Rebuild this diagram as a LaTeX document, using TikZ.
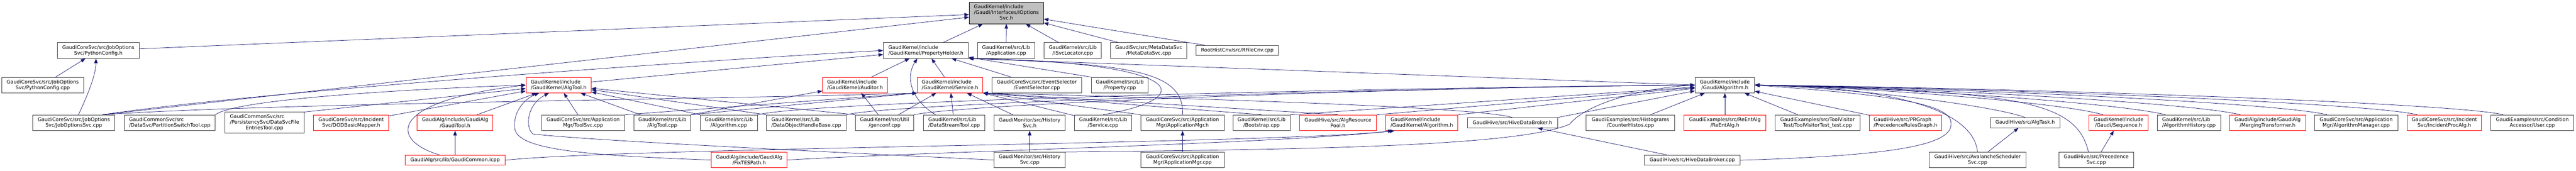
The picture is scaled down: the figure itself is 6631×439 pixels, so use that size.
\documentclass[tikz,border=0pt]{standalone}
\usepackage{fontspec}
\setmainfont{DejaVu Sans}
\usetikzlibrary{arrows.meta, positioning}
\definecolor{boxgray}{HTML}{404040}
\definecolor{rootgray}{HTML}{BFBFBF}
\definecolor{edgeblue}{HTML}{191970}
\tikzstyle{block} = [rectangle, draw=boxgray, fill=white, line width=1.2pt, inner sep=0pt, align=center, minimum height=40pt, font=\fontsize{12.75}{15}\selectfont]
\tikzstyle{redblock} = [block, draw=red]
\tikzstyle{rootblock} = [block, draw=black, fill=rootgray]
\tikzstyle{line} = [draw=edgeblue, line width=1pt, -{Triangle[length=12pt,width=9pt]}]

\begin{document}
\begin{tikzpicture}[x=1pt,y=-1pt]
	\useasboundingbox (0,0) rectangle (6631,439);

	% top
	\node[rootblock, minimum width=191pt, minimum height=55pt] (ioptions) at (2590.5,33.5) {\begin{tabular}{@{}l@{}}GaudiKernel/include\\/Gaudi/Interfaces/IOptions\\\multicolumn{1}{@{}c@{}}{Svc.h}\end{tabular}};

	% second row
	\node[block, minimum width=211pt] (pyconfh) at (253,130) {GaudiCoreSvc/src/JobOptions\\Svc/PythonConfig.h};
	\node[block, minimum width=219pt, align=left] (propholder) at (2383.5,130) {GaudiKernel/include\\/GaudiKernel/PropertyHolder.h};
	\node[block, minimum width=147pt] (appcpp) at (2590,130) {GaudiKernel/src/Lib\\/Application.cpp};
	\node[block, minimum width=147pt] (isvcloc) at (2761.5,130) {GaudiKernel/src/Lib\\/ISvcLocator.cpp};
	\node[block, minimum width=196pt] (metadata) at (2957,130) {GaudiSvc/src/MetaDataSvc\\/MetaDataSvc.cpp};
	\node[block, minimum width=212pt, minimum height=26pt] (rfilecnv) at (3185,130) {RootHistCnv/src/RFileCnv.cpp};

	% third row
	\node[block, minimum width=211pt] (pyconfcpp) at (110,219) {GaudiCoreSvc/src/JobOptions\\Svc/PythonConfig.cpp};
	\node[redblock, minimum width=168pt, align=left] (algtoolh) at (1438,219) {GaudiKernel/include\\/GaudiKernel/AlgTool.h};
	\node[redblock, minimum width=167pt, align=left] (auditorh) at (2201,219) {GaudiKernel/include\\/GaudiKernel/Auditor.h};
	\node[redblock, minimum width=169pt, align=left] (serviceh) at (2445.5,219) {GaudiKernel/include\\/GaudiKernel/Service.h};
	\node[block, minimum width=231pt] (evtsel) at (2669,219) {GaudiCoreSvc/src/EventSelector\\/EventSelector.cpp};
	\node[block, minimum width=147pt] (propcpp) at (2882.5,219) {GaudiKernel/src/Lib\\/Property.cpp};
	\node[block, minimum width=153pt] (galgh) at (4440,219) {GaudiKernel/include\\/Gaudi/Algorithm.h};

	% fourth row
	\node[block, minimum width=211pt] (jobsvc) at (190,316) {GaudiCoreSvc/src/JobOptions\\Svc/JobOptionsSvc.cpp};
	\node[block, minimum width=234pt, align=left] (partsw) at (437,316) {GaudiCommonSvc/src\\/DataSvc/PartitionSwitchTool.cpp};
	\node[block, minimum width=204pt, minimum height=54pt] (fileent) at (681,316) {\begin{tabular}{@{}l@{}}GaudiCommonSvc/src\\/PersistencySvc/DataSvcFile\\\multicolumn{1}{@{}c@{}}{EntriesTool.cpp}\end{tabular}};
	\node[redblock, minimum width=193pt] (dodmap) at (904,316) {GaudiCoreSvc/src/Incident\\Svc/DODBasicMapper.h};
	\node[redblock, minimum width=195pt] (gauditool) at (1171.5,316) {GaudiAlg/include/GaudiAlg\\/GaudiTool.h};
	\node[block, minimum width=214pt] (toolsvc) at (1501,316) {GaudiCoreSvc/src/Application\\Mgr/ToolSvc.cpp};
	\node[block, minimum width=146pt] (algtoolcpp) at (1705,316) {GaudiKernel/src/Lib\\/AlgTool.cpp};
	\node[block, minimum width=147pt] (algcpp) at (1876,316) {GaudiKernel/src/Lib\\/Algorithm.cpp};
	\node[block, minimum width=205pt, align=left] (dohbase) at (2075.5,316) {GaudiKernel/src/Lib\\/DataObjectHandleBase.cpp};
	\node[block, minimum width=150pt] (genconf) at (2277,316) {GaudiKernel/src/Util\\/genconf.cpp};
	\node[block, minimum width=158pt, align=left] (dstream) at (2456,316) {GaudiKernel/src/Lib\\/DataStreamTool.cpp};
	\node[block, minimum width=183pt] (histh) at (2650.5,316) {GaudiMonitor/src/History\\Svc.h};
	\node[block, minimum width=147pt] (svccpp) at (2839.5,316) {GaudiKernel/src/Lib\\/Service.cpp};
	\node[block, minimum width=214pt] (appmgrh) at (3044,316) {GaudiCoreSvc/src/Application\\Mgr/ApplicationMgr.h};
	\node[block, minimum width=147pt] (bootstrap) at (3247.5,316) {GaudiKernel/src/Lib\\/Bootstrap.cpp};
	\node[redblock, minimum width=198pt] (algrespool) at (3444,316) {GaudiHive/src/AlgResource\\Pool.h};
	\node[redblock, minimum width=186pt, align=left] (kalgh) at (3660,316) {GaudiKernel/include\\/GaudiKernel/Algorithm.h};
	\node[block, minimum width=232pt, minimum height=26pt] (hiveh) at (3893,316) {GaudiHive/src/HiveDataBroker.h};
	\node[block, minimum width=228pt] (counterh) at (4197,316) {GaudiExamples/src/Histograms\\/CounterHistos.cpp};
	\node[redblock, minimum width=210pt] (reent) at (4440,316) {GaudiExamples/src/ReEntAlg\\/ReEntAlg.h};
	\node[block, minimum width=219pt] (toolvis) at (4678.5,316) {GaudiExamples/src/ToolVisitor\\Test/ToolVisitorTest\_test.cpp};
	\node[redblock, minimum width=186pt, align=left] (prgraph) at (4905,316) {GaudiHive/src/PRGraph\\/PrecedenceRulesGraph.h};
	\node[block, minimum width=180pt, minimum height=26pt] (algtask) at (5213,316) {GaudiHive/src/AlgTask.h};
	\node[redblock, minimum width=153pt] (sequence) at (5453.5,316) {GaudiKernel/include\\/Gaudi/Sequence.h};
	\node[block, minimum width=163pt, align=left] (alghist) at (5634.5,316) {GaudiKernel/src/Lib\\/AlgorithmHistory.cpp};
	\node[redblock, minimum width=196pt] (merging) at (5837,316) {GaudiAlg/include/GaudiAlg\\/MergingTransformer.h};
	\node[block, minimum width=214pt] (algmgr) at (6065,316) {GaudiCoreSvc/src/Application\\Mgr/AlgorithmManager.cpp};
	\node[redblock, minimum width=192pt] (incproc) at (6292,316) {GaudiCoreSvc/src/Incident\\Svc/IncidentProcAlg.h};
	\node[block, minimum width=213pt] (usercpp) at (6518.5,316) {GaudiExamples/src/Condition\\Accessor/User.cpp};

	% bottom row
	\node[redblock, minimum width=257pt, minimum height=26pt] (gcommon) at (1171.5,412.5) {GaudiAlg/src/lib/GaudiCommon.icpp};
	\node[redblock, minimum width=195pt] (fixtes) at (1928.5,412) {GaudiAlg/include/GaudiAlg\\/FixTESPath.h};
	\node[block, minimum width=183pt] (histcpp) at (2650.5,412) {GaudiMonitor/src/History\\Svc.cpp};
	\node[block, minimum width=214pt] (appmgrcpp) at (3044,412) {GaudiCoreSvc/src/Application\\Mgr/ApplicationMgr.cpp};
	\node[block, minimum width=247pt, minimum height=26pt] (hivecpp) at (4356,412.5) {GaudiHive/src/HiveDataBroker.cpp};
	\node[block, minimum width=249pt] (avalanche) at (5090.5,412) {GaudiHive/src/AvalancheScheduler\\Svc.cpp};
	\node[block, minimum width=192pt] (precsvc) at (5396,412) {GaudiHive/src/Precedence\\Svc.cpp};

	% IOptionsSvc.h
	\path [line] (pyconfh) -- (ioptions);
	\path [line] ([xshift=74pt]jobsvc.north) -- (ioptions);
	\path [line] (propholder) -- (ioptions);
	\path [line] (appcpp) -- (ioptions);
	\path [line] (isvcloc) -- (ioptions);
	\path [line] (metadata) -- (ioptions);
	\path [line] (rfilecnv) -- (ioptions);

	\path [line] (pyconfcpp) -- (pyconfh);
	\path [line] ([xshift=12pt]jobsvc.north) .. controls (228,240) and (247,190) .. ([xshift=-6pt]pyconfh.south);

	% PropertyHolder.h
	\path [line] ([xshift=74pt]jobsvc.north) .. controls (700,230) and (1900,150) .. (propholder.west);
	\path [line] (algtoolh) -- (propholder);
	\path [line] (auditorh) -- (propholder);
	\path [line] (serviceh) -- (propholder);
	\path [line] ([xshift=-48pt]dstream.north) .. controls (2335,250) and (2335,190) .. ([xshift=-22pt]propholder.south);
	\path [line] (evtsel) -- (propholder);
	\path [line] (propcpp.north west) -- (propholder);
	\path [line] (svccpp.north) .. controls (3100,250) and (3040,160) .. (propholder.south east);
	\path [line] (appmgrh.north) .. controls (3050,180) and (2900,165) .. (propholder.south east);
	\path [line] (galgh.west) -- (propholder.south east);

	% Auditor.h
	\path [line] (algtoolcpp.north east) -- (auditorh);
	\path [line] (genconf) -- (auditorh);

	% Service.h
	\path [line] ([xshift=74pt]jobsvc.north) .. controls (700,265) and (1900,255) .. (serviceh.south west);
	\path [line] (toolsvc.north east) -- (serviceh.south west);
	\path [line] (algtoolcpp.north east) -- (serviceh.south west);
	\path [line] (genconf) -- (serviceh);
	\path [line] (dstream) -- (serviceh);
	\path [line] (histh) -- (serviceh);
	\path [line] (svccpp) -- (serviceh.south east);
	\path [line] (appmgrh.north west) -- (serviceh.south east);
	\path [line] (bootstrap.north) -- (serviceh.south east);
	\path [line] (algrespool.north) -- (serviceh.south east);
	\path [line] (hiveh.north) .. controls +(-100,-30) and +(400,10) .. (serviceh.south east);

	% AlgTool.h
	\path [line] (partsw.north east) .. controls +(50,-40) and +(-300,10) .. (algtoolh.west);
	\path [line] (fileent.north east) -- (algtoolh);
	\path [line] (dodmap) -- (algtoolh);
	\path [line] (gauditool) -- (algtoolh);
	\path [line] ([xshift=-40pt]gcommon.north) .. controls (1000,360) and (1000,260) .. (algtoolh.west);
	\path [line] (toolsvc) -- (algtoolh);
	\path [line] (algtoolcpp) -- (algtoolh);
	\path [line] (algcpp.north west) -- (algtoolh);
	\path [line] (dohbase.north west) -- (algtoolh);
	\path [line] (genconf.north west) -- (algtoolh);
	\path [line] (fixtes.west) .. controls (1500,400) and (1330,385) .. (1325,330) .. controls (1320,280) and (1360,250) .. ([xshift=-50pt]algtoolh.south);
	\path [line] (histcpp.west) .. controls (2000,385) and (1500,360) .. (1372,345) .. controls (1352,330) and (1355,270) .. ([xshift=-25pt]algtoolh.south);
	\path [line] (gcommon) -- (gauditool);

	% GaudiKernel/Algorithm.h
	\path [line] (gcommon.east) .. controls (1600,380) and (3300,370) .. ([xshift=-70pt]kalgh.south);
	\path [line] (fixtes.east) .. controls (2400,390) and (3300,370) .. ([xshift=-75pt]kalgh.south);

	\path [line] (histcpp) -- (histh);
	\path [line] (appmgrcpp) -- (appmgrh);
	\path [line] (hivecpp) -- (hiveh);
	\path [line] (avalanche) -- (algtask);
	\path [line] (precsvc) -- (sequence);

	% Gaudi/Algorithm.h
	\path [line] (histcpp.north east) .. controls (3300,385) and (3900,380) .. (4040,320) .. controls (4090,260) and (4250,225) .. (galgh.west);
	\path [line] (genconf.north east) .. controls +(150,-30) and +(-700,5) .. (galgh.west);
	\path [line] (algcpp.north east) .. controls +(150,-35) and +(-900,8) .. (galgh.west);
	\path [line] (dohbase.north east) .. controls +(120,-30) and +(-800,8) .. (galgh.west);
	\path [line] (bootstrap.north east) -- (galgh);
	\path [line] (algrespool.north east) -- (galgh);
	\path [line] (kalgh.north east) -- (galgh);
	\path [line] (hiveh.north east) -- (galgh);
	\path [line] (counterh) -- (galgh);
	\path [line] (reent) -- (galgh);
	\path [line] (toolvis) -- (galgh);
	\path [line] (prgraph) -- (galgh);
	\path [line] (algtask.north) .. controls +(-80,-30) and +(260,8) .. (galgh.east);
	\path [line] (avalanche.north) .. controls (5080,290) and (4900,225) .. (galgh.east);
	\path [line] (hivecpp.east) .. controls (4900,400) and (5030,370) .. (5022,315) .. controls (5020,260) and (4800,240) .. (galgh.east);
	\path [line] ([xshift=-20pt]precsvc.north) .. controls (5345,260) and (5200,235) .. (galgh.east);
	\path [line] ([xshift=-40pt]sequence.north) .. controls +(-100,-30) and +(330,8) .. (galgh.east);
	\path [line] ([xshift=-60pt]alghist.north) .. controls +(-120,-30) and +(390,8) .. (galgh.east);
	\path [line] ([xshift=-70pt]merging.north) .. controls +(-120,-30) and +(460,8) .. (galgh.east);
	\path [line] ([xshift=-75pt]algmgr.north) .. controls +(-120,-30) and +(545,8) .. (galgh.east);
	\path [line] ([xshift=-70pt]incproc.north) .. controls +(-120,-30) and +(630,8) .. (galgh.east);
	\path [line] ([xshift=-75pt]usercpp.north) .. controls +(-120,-30) and +(710,8) .. (galgh.east);
\end{tikzpicture}
\end{document}
